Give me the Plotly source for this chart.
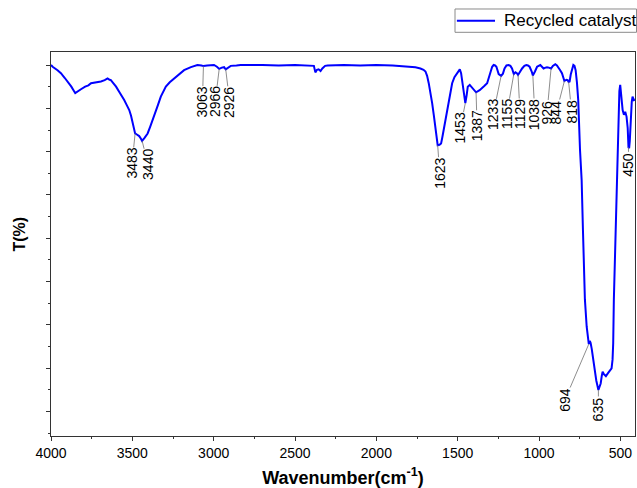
import numpy as np
import plotly.graph_objects as go

# FTIR spectrum of the recycled catalyst (wavenumber in cm-1, transmittance in %)
wavenumber = [
    4000, 3990, 3960, 3939, 3915, 3898, 3875, 3851, 3835, 3816, 3790, 3770, 3754, 3730,
    3710, 3693, 3670, 3652, 3640, 3632, 3621, 3600, 3581, 3565, 3550, 3535, 3519, 3508,
    3498, 3489, 3483, 3470, 3458, 3447, 3440, 3425, 3406, 3390, 3366, 3345, 3325, 3310,
    3294, 3270, 3243, 3210, 3182, 3140, 3100, 3075, 3063, 3040, 3020, 2998, 2980, 2966,
    2950, 2936, 2926, 2905, 2895, 2860, 2834, 2700, 2600, 2500, 2400, 2384, 2375, 2365,
    2355, 2343, 2332, 2315, 2300, 2200, 2100, 2000, 1900, 1800, 1760, 1729, 1710, 1698,
    1688, 1678, 1667, 1657, 1647, 1637, 1630, 1623, 1612, 1602, 1594, 1586, 1575, 1565,
    1550, 1534, 1520, 1504, 1492, 1487, 1479, 1470, 1463, 1453, 1445, 1438, 1426, 1413,
    1401, 1390, 1387, 1365, 1350, 1335, 1319, 1308, 1299, 1288, 1279, 1270, 1262, 1248,
    1233, 1222, 1212, 1200, 1187, 1176, 1166, 1155, 1145, 1136, 1129, 1115, 1104, 1090,
    1078, 1068, 1058, 1045, 1038, 1025, 1012, 992, 972, 960, 951, 940, 926, 915,
    900, 890, 880, 870, 859, 850, 844, 832, 824, 818, 812, 805, 797, 789,
    782, 775, 767, 759, 748, 738, 730, 724, 718, 707, 700, 694, 688, 683,
    676, 661, 648, 635, 628, 621, 614, 609, 600, 589, 576, 564, 554, 548,
    544, 540, 530, 520, 512, 506, 501, 495, 486, 478, 470, 462, 455, 450,
    446, 442, 436, 430, 425, 417, 410,
]
transmittance = [
    100.0, 99.6, 98.8, 98.1, 97.0, 96.2, 95.0, 93.5, 94.0, 94.4, 95.0, 95.3, 95.8, 95.9,
    96.1, 96.2, 96.5, 96.9, 96.6, 96.5, 96.0, 95.0, 93.8, 92.9, 91.9, 90.8, 89.6, 88.3,
    86.9, 85.0, 84.2, 83.9, 83.6, 83.0, 82.5, 83.2, 84.2, 85.8, 88.1, 90.5, 92.7, 94.0,
    95.0, 96.0, 96.9, 98.0, 98.8, 99.5, 100.0, 99.9, 99.75, 99.9, 99.9, 100.0, 99.6, 99.1,
    99.4, 99.5, 99.0, 99.6, 99.8, 99.9, 100.0, 100.0, 99.9, 100.0, 99.9, 99.8, 98.3, 98.9,
    99.0, 98.6, 99.2, 99.8, 99.9, 100.0, 99.9, 100.0, 99.9, 99.7, 99.5, 99.2, 98.9, 98.5,
    97.5, 95.8, 93.6, 91.2, 88.5, 85.8, 83.3, 81.5, 81.6, 81.9, 83.4, 85.0, 87.4, 89.6,
    93.0, 95.8, 97.2, 98.1, 98.8, 99.0, 98.1, 96.0, 93.5, 91.2, 93.0, 95.0, 95.4, 94.9,
    94.4, 93.8, 93.7, 94.2, 94.6, 95.2, 95.8, 97.0, 98.5, 99.6, 100.0, 99.9, 99.6, 97.9,
    97.5, 98.0, 99.2, 99.9, 100.0, 99.8, 99.2, 97.9, 98.3, 98.1, 97.7, 98.6, 99.2, 99.8,
    100.0, 99.9, 99.6, 98.5, 97.6, 98.5, 99.6, 100.0, 99.2, 99.4, 99.5, 99.4, 99.2, 99.8,
    100.2, 99.9, 99.2, 98.8, 98.1, 96.9, 96.3, 96.6, 96.5, 96.1, 96.2, 97.8, 99.2, 100.0,
    99.8, 98.8, 96.0, 91.9, 80.4, 73.5, 62.0, 53.0, 45.9, 39.6, 37.0, 35.6, 36.3, 35.9,
    34.5, 30.4, 27.2, 25.0, 25.6, 26.5, 28.3, 29.2, 28.6, 28.2, 28.9, 29.5, 30.0, 32.0,
    35.8, 45.8, 62.0, 78.0, 88.0, 94.0, 95.4, 93.0, 89.6, 88.5, 89.2, 88.1, 85.5, 81.0,
    80.8, 82.5, 88.1, 91.5, 92.7, 91.9, 92.0,
]

# Band positions marked on the spectrum
peak_labels = [3483, 3440, 3063, 2966, 2926, 1623, 1453, 1387, 1233,
               1155, 1129, 1038, 926, 844, 818, 694, 635, 450]
# Pixel offsets of each label's centre from its band (layout only)
label_dx = [-3, 6, -1, -4, 4, 2, -5, 1, -8, -7, 2, 2, -4, -8, 3, -24, 0, 0]
label_dy = [30, 24, 36, 33, 33, 28, 25, 34, 39, 40, 39, 39, 44, 31, 30, 56, 19, 17]

x_ticks = [4000, 3500, 3000, 2500, 2000, 1500, 1000, 500]

SERIES_NAME = "Recycled catalyst"
SERIES_COLOR = "#0000ff"
FONT = "Arial, Liberation Sans, sans-serif"

fig = go.Figure()
fig.add_trace(go.Scatter(
    x=wavenumber, y=transmittance, mode="lines",
    name=SERIES_NAME, showlegend=False,
    line=dict(color=SERIES_COLOR, width=2),
))

wn_inc = np.array(wavenumber[::-1], dtype=float)
t_inc = np.array(transmittance[::-1], dtype=float)
for lab, dx, dy in zip(peak_labels, label_dx, label_dy):
    t_at = float(np.interp(lab, wn_inc, t_inc))
    fig.add_annotation(
        x=lab, y=t_at, text=str(lab), textangle=-90,
        showarrow=True, arrowhead=0, arrowwidth=0.8, arrowcolor="#707070",
        ax=dx, ay=dy, standoff=0, startstandoff=0,
        font=dict(family=FONT, size=14, color="#000"),
        borderpad=0,
    )

# Y-axis title
fig.add_annotation(
    x=-0.054, y=0.526, xref="paper", yref="paper", xanchor="center", yanchor="middle",
    text="<b>T(%)</b>", textangle=-90, showarrow=False,
    font=dict(family=FONT, size=16, color="#000"),
)

# Legend box above the top-right corner of the plot
fig.add_shape(type="rect", xref="paper", yref="paper",
              x0=0.6918, x1=1.0026, y0=1.0513, y1=1.112,
              line=dict(color="#8a8a8a", width=1), fillcolor="white", layer="above")
fig.add_shape(type="line", xref="paper", yref="paper",
              x0=0.6950, x1=0.7603, y0=1.0815, y1=1.0815,
              line=dict(color=SERIES_COLOR, width=2), layer="above")
fig.add_annotation(
    x=0.7730, y=1.0815, xref="paper", yref="paper", xanchor="left", yanchor="middle",
    text=SERIES_NAME, showarrow=False,
    font=dict(family=FONT, size=17, color="#000"),
)

axis_common = dict(
    showline=True, linecolor="#333", linewidth=1, mirror=True,
    showgrid=False, zeroline=False, ticks="outside", tickcolor="#333",
)

fig.update_layout(
    width=637, height=488,
    margin=dict(l=51, r=2, t=52, b=52, autoexpand=False),
    paper_bgcolor="white", plot_bgcolor="white",
    font=dict(family=FONT, color="#000"),
    showlegend=False,
    xaxis=dict(
        range=[4000, 410], tickvals=x_ticks, ticklen=4,
        tickfont=dict(family=FONT, size=14, color="#000"),
        minor=dict(dtick=250, tick0=0, ticklen=2, ticks="outside", tickcolor="#333"),
        title=dict(text="<b>Wavenumber(cm<sup>-1</sup>)</b>", standoff=15,
                   font=dict(family=FONT, size=18, color="#000")),
        **axis_common,
    ),
    yaxis=dict(
        range=[14.38, 103.0], tick0=0, dtick=10, ticklen=4, showticklabels=False,
        minor=dict(dtick=5, tick0=0, ticklen=2, ticks="outside", tickcolor="#333"),
        **axis_common,
    ),
)

fig.write_html("out.html")
